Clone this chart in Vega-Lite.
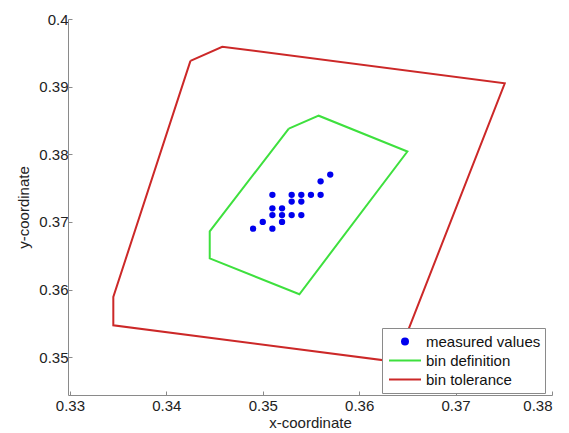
{
  "$schema": "https://vega.github.io/schema/vega-lite/v6.json",
  "autosize": {"type": "none"},
  "width": 484,
  "height": 376,
  "padding": {"left": 68, "top": 19, "right": 17, "bottom": 38},
  "background": "white",
  "config": {
    "view": {"stroke": null},
    "font": "Liberation Sans",
    "axis": {
      "grid": false,
      "domainColor": "#8a8a8a",
      "tickColor": "#8a8a8a",
      "labelColor": "#222222",
      "titleColor": "#222222",
      "labelFont": "Liberation Sans",
      "titleFont": "Liberation Sans",
      "labelFontSize": 15,
      "titleFontSize": 15,
      "titleFontWeight": "normal",
      "tickSize": -4
    }
  },
  "data": {
    "values": [
      {"series": "bin tolerance", "order": 1, "x": 0.3425, "y": 0.3938},
      {"series": "bin tolerance", "order": 2, "x": 0.3458, "y": 0.3959},
      {"series": "bin tolerance", "order": 3, "x": 0.3751, "y": 0.3905},
      {"series": "bin tolerance", "order": 4, "x": 0.3638, "y": 0.3493},
      {"series": "bin tolerance", "order": 5, "x": 0.3345, "y": 0.3547},
      {"series": "bin tolerance", "order": 6, "x": 0.3345, "y": 0.3589},
      {"series": "bin tolerance", "order": 7, "x": 0.3425, "y": 0.3938},
      {"series": "bin definition", "order": 1, "x": 0.3527, "y": 0.3838},
      {"series": "bin definition", "order": 2, "x": 0.3558, "y": 0.3857},
      {"series": "bin definition", "order": 3, "x": 0.3650, "y": 0.3804},
      {"series": "bin definition", "order": 4, "x": 0.3538, "y": 0.3593},
      {"series": "bin definition", "order": 5, "x": 0.3445, "y": 0.3646},
      {"series": "bin definition", "order": 6, "x": 0.3445, "y": 0.3686},
      {"series": "bin definition", "order": 7, "x": 0.3527, "y": 0.3838},
      {"series": "measured values", "order": 0, "x": 0.349, "y": 0.369},
      {"series": "measured values", "order": 0, "x": 0.350, "y": 0.370},
      {"series": "measured values", "order": 0, "x": 0.351, "y": 0.369},
      {"series": "measured values", "order": 0, "x": 0.351, "y": 0.371},
      {"series": "measured values", "order": 0, "x": 0.351, "y": 0.372},
      {"series": "measured values", "order": 0, "x": 0.351, "y": 0.374},
      {"series": "measured values", "order": 0, "x": 0.352, "y": 0.372},
      {"series": "measured values", "order": 0, "x": 0.352, "y": 0.371},
      {"series": "measured values", "order": 0, "x": 0.352, "y": 0.370},
      {"series": "measured values", "order": 0, "x": 0.353, "y": 0.371},
      {"series": "measured values", "order": 0, "x": 0.353, "y": 0.374},
      {"series": "measured values", "order": 0, "x": 0.353, "y": 0.373},
      {"series": "measured values", "order": 0, "x": 0.354, "y": 0.374},
      {"series": "measured values", "order": 0, "x": 0.354, "y": 0.373},
      {"series": "measured values", "order": 0, "x": 0.354, "y": 0.371},
      {"series": "measured values", "order": 0, "x": 0.355, "y": 0.374},
      {"series": "measured values", "order": 0, "x": 0.356, "y": 0.374},
      {"series": "measured values", "order": 0, "x": 0.356, "y": 0.376},
      {"series": "measured values", "order": 0, "x": 0.357, "y": 0.377}
    ]
  },
  "encoding": {
    "x": {
      "field": "x", "type": "quantitative",
      "scale": {"domain": [0.3298, 0.38], "nice": false, "zero": false},
      "axis": {"title": "x-coordinate", "values": [0.33, 0.34, 0.35, 0.36, 0.37, 0.38], "format": ".2f", "labelPadding": 7, "titlePadding": 2}
    },
    "y": {
      "field": "y", "type": "quantitative",
      "scale": {"domain": [0.3444, 0.4], "nice": false, "zero": false},
      "axis": {"title": "y-coordinate", "values": [0.35, 0.36, 0.37, 0.38, 0.39, 0.4], "format": "~g", "labelPadding": 4, "titlePadding": 7}
    },
    "color": {
      "field": "series", "type": "nominal",
      "scale": {
        "domain": ["measured values", "bin definition", "bin tolerance"],
        "range": ["#0000ee", "#3ee03e", "#cc2828"]
      },
      "legend": {
        "title": null,
        "orient": "none",
        "legendX": 314,
        "legendY": 309,
        "fillColor": "white",
        "strokeColor": "#8a8a8a",
        "padding": 4,
        "rowPadding": 0,
        "clipHeight": 19,
        "labelFont": "Liberation Sans",
        "labelFontSize": 15,
        "labelColor": "#111111",
        "labelLimit": 300,
        "symbolType": "stroke",
        "symbolSize": 1024,
        "symbolStrokeWidth": 2,
        "symbolOffset": 2,
        "labelOffset": 4,
        "encode": {
          "symbols": {
            "update": {
              "shape": {"signal": "datum.value === 'measured values' ? 'circle' : 'stroke'"},
              "size": {"signal": "datum.value === 'measured values' ? 36 : 1024"},
              "fill": {"signal": "datum.value === 'measured values' ? '#0000ee' : 'transparent'"},
              "stroke": {"signal": "datum.value === 'measured values' ? 'transparent' : datum.value === 'bin definition' ? '#3ee03e' : '#cc2828'"},
              "strokeWidth": {"value": 2},
              "opacity": {"value": 1}
            }
          }
        }
      }
    }
  },
  "layer": [
    {
      "transform": [{"filter": "datum.series !== 'measured values'"}],
      "mark": {"type": "line", "strokeWidth": 2},
      "encoding": {"order": {"field": "order", "type": "quantitative"}}
    },
    {
      "transform": [{"filter": "datum.series === 'measured values'"}],
      "mark": {"type": "point", "filled": true, "size": 40, "opacity": 1}
    }
  ]
}
